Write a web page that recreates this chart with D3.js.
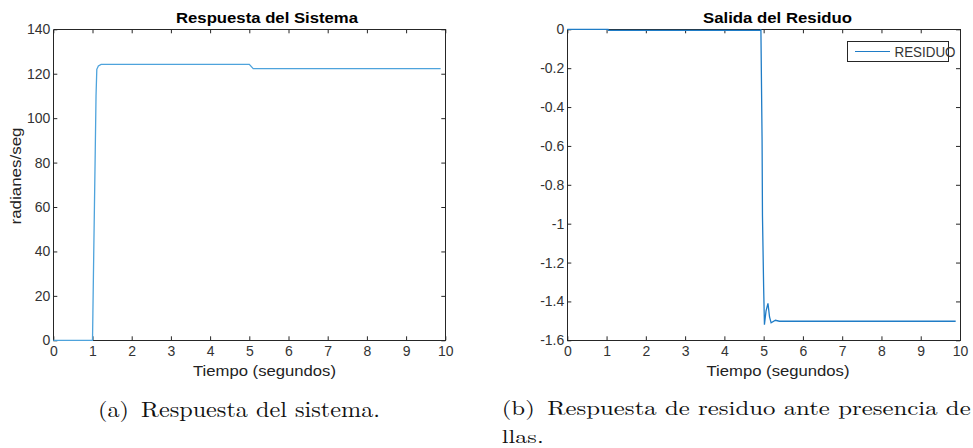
<!DOCTYPE html>
<html><head><meta charset="utf-8">
<script src="https://cdn.jsdelivr.net/npm/d3@7"></script>
<style>body{margin:0;background:#fff}svg{display:block}</style>
</head><body>
<script>
// ---- data ----
const xTicks = [0,1,2,3,4,5,6,7,8,9,10];
const sysTicksY = [0,20,40,60,80,100,120,140];
const resTicksY = [-1.6,-1.4,-1.2,-1,-0.8,-0.6,-0.4,-0.2,0];
// Respuesta del Sistema (t, rad/s)
const sysT = [0,1.0,1.01,1.03,1.05,1.07,1.09,1.11,1.15,1.22,5.0,5.1,9.88];
const sysV = [0,0,12,37,61,85,110,122,123.5,124.2,124.2,122.3,122.3];
// Salida del Residuo
const resT = [0,1.04,1.05,4.92,4.93,4.96,4.97,5.0,5.02,5.06,5.11,5.15,5.19,5.3,5.4,9.89];
const resV = [0,0,-0.006,-0.006,0,-0.57,-0.96,-1.33,-1.52,-1.45,-1.41,-1.48,-1.51,-1.497,-1.502,-1.502];

const W = 973, H = 448;
const svg = d3.select("body").append("svg").attr("width",W).attr("height",H);
svg.append("rect").attr("width",W).attr("height",H).attr("fill","#fff");
const axCol = "#262626", txtCol = "#333";
const F = "'Liberation Sans', Arial, sans-serif";

function panel(o){
  const x = d3.scaleLinear().domain([0,10]).range([o.x0,o.x1]);
  const y = d3.scaleLinear().domain(o.yd).range([340.3,29.3]);
  const g = svg.append("g");
  const style = sel => {
    sel.select(".domain").attr("stroke",axCol);
    sel.selectAll(".tick line").attr("stroke",axCol);
    sel.selectAll("text").attr("fill",txtCol).style("font-family",F).style("font-size","14px");
  };
  g.append("g").attr("transform",`translate(0,${y.range()[0]})`)
    .call(d3.axisBottom(x).tickValues(xTicks).tickSize(-4).tickSizeOuter(0).tickPadding(6).tickFormat(d3.format("d")))
    .call(style);
  g.append("g").attr("transform",`translate(0,${y.range()[1]})`)
    .call(d3.axisTop(x).tickValues(xTicks).tickSize(-4).tickSizeOuter(0).tickFormat(""))
    .call(style);
  g.append("g").attr("transform",`translate(${o.x0},0)`)
    .call(d3.axisLeft(y).tickValues(o.yt).tickSize(-4).tickSizeOuter(0).tickPadding(3).tickFormat(d=>String(d)))
    .call(style);
  g.append("g").attr("transform",`translate(${o.x1},0)`)
    .call(d3.axisRight(y).tickValues(o.yt).tickSize(-4).tickSizeOuter(0).tickFormat(""))
    .call(style);
  g.selectAll(".domain").attr("shape-rendering","crispEdges");
  // line (drawn over the frame)
  const pts = o.t.map((t,i)=>[t,o.v[i]]);
  g.append("path").datum(pts).attr("fill","none").attr("stroke",o.col)
    .attr("stroke-width",1.3)
    .attr("d", d3.line().x(d=>x(d[0])).y(d=>y(d[1])));
  // title
  svg.append("text").attr("x",o.titleX).attr("y",22.7).attr("text-anchor","middle")
    .attr("font-family",F).attr("font-weight","bold").attr("font-size",15.5).attr("fill","#000")
    .attr("textLength",o.titleW).attr("lengthAdjust","spacingAndGlyphs").text(o.title);
  // xlabel
  svg.append("text").attr("x",o.xlabX).attr("y",376).attr("text-anchor","middle")
    .attr("font-family",F).attr("font-size",15.5).attr("fill","#222")
    .attr("textLength",143).attr("lengthAdjust","spacingAndGlyphs").text("Tiempo (segundos)");
  return {x,y,g};
}

const A = panel({x0:53.3,x1:445.3,yd:[0,140],yt:sysTicksY,t:sysT,v:sysV,col:"#4ea3dc",
  title:"Respuesta del Sistema",titleX:267,titleW:182,xlabX:264.5});
const B = panel({x0:567.3,x1:960,yd:[-1.6,0],yt:resTicksY,t:resT,v:resV,col:"#1f7cc6",
  title:"Salida del Residuo",titleX:777.5,titleW:149,xlabX:778});

// y label left
svg.append("text").attr("transform","translate(21,176) rotate(-90)").attr("text-anchor","middle")
  .attr("font-family",F).attr("font-size",15).attr("fill","#222")
  .attr("textLength",97).attr("lengthAdjust","spacingAndGlyphs").text("radianes/seg");

// legend
const lg = svg.append("g");
lg.append("rect").attr("x",847.5).attr("y",41.5).attr("width",101).attr("height",20)
  .attr("fill","#fff").attr("stroke",axCol).attr("stroke-width",1);
lg.append("line").attr("x1",855).attr("x2",890).attr("y1",51.5).attr("y2",51.5)
  .attr("stroke","#1f7cc6").attr("stroke-width",1.2);
lg.append("text").attr("x",894.5).attr("y",56.5).attr("font-family",F).attr("font-size",14)
  .attr("fill",txtCol).attr("textLength",61).attr("lengthAdjust","spacingAndGlyphs").text("RESIDUO");

// captions
const CF = "'Latin Modern Roman','Liberation Serif','DejaVu Serif',serif";
svg.append("text").attr("x",98).attr("y",416.5).attr("font-family",CF).attr("font-size",21.5)
  .attr("fill","#111").attr("textLength",282).attr("lengthAdjust","spacingAndGlyphs")
  .text("(a)\u2002Respuesta del sistema.");
svg.append("text").attr("font-family",CF).attr("font-size",20).attr("fill","#111")
  .attr("x",501.7).attr("y",414.5)
  .attr("textLength",469).attr("lengthAdjust","spacingAndGlyphs")
  .text("(b)\u2002Respuesta de residuo ante presencia de");
svg.append("text").attr("font-family",CF).attr("font-size",18.5).attr("fill","#111")
  .attr("x",501.7).attr("y",443)
  .attr("textLength",42).attr("lengthAdjust","spacingAndGlyphs")
  .text("llas.");
</script>
</body></html>
